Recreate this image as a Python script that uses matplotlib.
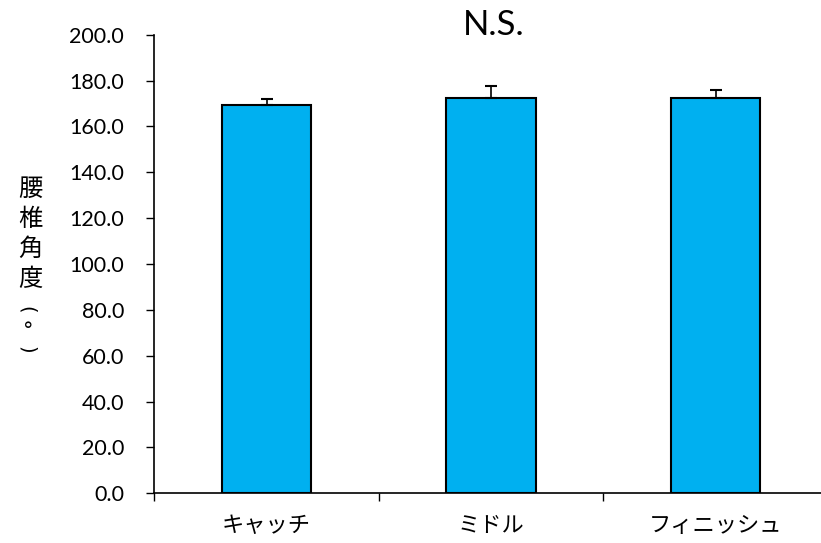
import matplotlib
matplotlib.use('Agg')
import matplotlib.pyplot as plt
from matplotlib.ticker import FixedLocator, FixedFormatter

plt.rcParams['font.family'] = ['Lato', 'Noto Sans CJK JP', 'DejaVu Sans']

# データ
categories = ['キャッチ', 'ミドル', 'フィニッシュ']
means = [169.4, 172.3, 172.4]
sd = [2.6, 5.4, 3.4]
ylabel_chars = ['腰', '椎', '角', '度']

fig = plt.figure(figsize=(8.21, 5.43), dpi=100)
ax = fig.add_axes([0.188, 0.0915, 0.8203, 0.8446])

x = range(len(categories))
ax.bar(x, means, width=0.4, color='#00B0F0', edgecolor='black', linewidth=1.5, zorder=2)
ax.errorbar(x, means, yerr=[[0] * len(sd), sd], fmt='none', ecolor='black',
            elinewidth=1.2, capsize=4.3, capthick=1.5, zorder=3)

ax.set_xlim(-0.5, 2.5)
ax.set_ylim(0, 200)
ax.set_yticks(range(0, 201, 20))
ax.set_yticklabels(['%.1f' % v for v in range(0, 201, 20)])
ax.tick_params(axis='y', direction='out', length=5.8, width=1, pad=16, labelsize=15.5)

# 区切りの目盛とカテゴリ名
ax.xaxis.set_major_locator(FixedLocator([-0.5, 0.5, 1.5, 2.5]))
ax.xaxis.set_major_formatter(FixedFormatter(['', '', '', '']))
ax.xaxis.set_minor_locator(FixedLocator(list(x)))
ax.xaxis.set_minor_formatter(FixedFormatter(categories))
ax.tick_params(axis='x', which='major', direction='out', length=5.8, width=1)
ax.tick_params(axis='x', which='minor', length=0, pad=15, labelsize=16)
for lab in ax.get_xticklabels(minor=True):
    lab.set_family(['Noto Sans CJK JP', 'DejaVu Sans'])

for s in ['top', 'right']:
    ax.spines[s].set_visible(False)
for s in ['left', 'bottom']:
    ax.spines[s].set_linewidth(1.2)

# 縦書きラベル 腰椎角度（°）
cx = 30 / 821
ys = [189, 219, 249, 279]
for ch, yp in zip(ylabel_chars, ys):
    fig.text(cx, 1 - yp / 543, ch, ha='center', va='center', fontsize=17.5,
             family=['Noto Sans CJK JP', 'DejaVu Sans'])
px = cx - 4 / 821
fig.text(px, 1 - 310 / 543, '(', ha='center', va='center', fontsize=14, rotation=-90,
         rotation_mode='anchor', family='DejaVu Sans')
fig.text(cx - 2 / 821, 1 - 331 / 543, '°', ha='center', va='center', fontsize=15,
         family='DejaVu Sans')
fig.text(px, 1 - 350 / 543, ')', ha='center', va='center', fontsize=14, rotation=-90,
         rotation_mode='anchor', family='DejaVu Sans')

fig.text(493.5 / 821, 1 - 25 / 543, 'N.S.', ha='center', va='center', fontsize=25)

fig.savefig('out.png', dpi=100)
